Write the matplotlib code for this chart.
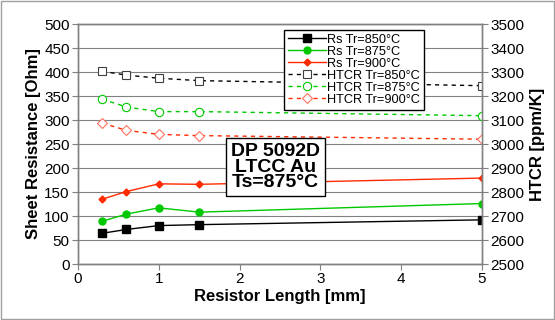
import matplotlib
matplotlib.use("Agg")
import matplotlib.pyplot as plt

plt.rcParams['font.family'] = ['Liberation Sans', 'DejaVu Sans']

length = [0.3, 0.6, 1.0, 1.5, 5.0]
rs_850 = [64, 72, 80, 82, 92]
rs_875 = [89, 104, 117, 108, 126]
rs_900 = [135, 151, 167, 166, 179]
htcr_850 = [3303, 3287, 3274, 3264, 3243]
htcr_875 = [3187, 3154, 3135, 3135, 3118]
htcr_900 = [3087, 3057, 3040, 3035, 3020]

black = '#000000'
green = '#00c800'
red = '#ff2a00'
grid = '#808080'

fig = plt.figure(figsize=(5.55, 3.2), dpi=100)
ax = fig.add_axes([78/555, 1-264/320, (482-78)/555, 240/320])
ax2 = ax.twinx()

l1, = ax.plot(length, rs_850, '-s', color=black, lw=1, ms=6, mfc=black, mec=black, label='Rs Tr=850°C')
l2, = ax.plot(length, rs_875, '-o', color=green, lw=1, ms=5, mfc=green, mec=green, label='Rs Tr=875°C')
l3, = ax.plot(length, rs_900, '-D', color=red, lw=1, ms=3.5, mfc=red, mec=red, label='Rs Tr=900°C')
l4, = ax2.plot(length, htcr_850, '--s', color=black, lw=1, ms=6, mfc='white', mec='#404040', mew=0.8, label='HTCR Tr=850°C', dashes=(3, 3))
l5, = ax2.plot(length, htcr_875, '--o', color=green, lw=1, ms=6, mfc='white', mec=green, mew=0.8, label='HTCR Tr=875°C', dashes=(3, 3))
l6, = ax2.plot(length, htcr_900, '--D', color=red, lw=1, ms=5, mfc='white', mec='#ff7060', mew=0.8, label='HTCR Tr=900°C', dashes=(3, 3))

ax.set_xlim(0, 5)
ax.set_ylim(0, 500)
ax2.set_ylim(2500, 3500)
ax.set_xticks([0, 1, 2, 3, 4, 5])
ax.set_yticks(range(0, 501, 50))
ax2.set_yticks(range(2500, 3501, 100))
ax.yaxis.grid(True, color=grid, lw=0.8)
ax.set_axisbelow(True)

for a in (ax, ax2):
    for s in a.spines.values():
        s.set_color(grid)
        s.set_linewidth(1)
    a.tick_params(colors='black', labelsize=11, length=4, width=0.8, color=grid, pad=2)

ax.set_xlabel('Resistor Length [mm]', fontsize=12, fontweight='bold', labelpad=2)
ax.set_ylabel('Sheet Resistance [Ohm]', fontsize=12, fontweight='bold', labelpad=2)
ax2.set_ylabel('HTCR [ppm/K]', fontsize=12, fontweight='bold', labelpad=4)

leg = ax2.legend(handles=[l1, l2, l3, l4, l5, l6], loc='upper left',
                 bbox_to_anchor=((284-78)/404, (264-30)/240), fontsize=9.2,
                 frameon=True, fancybox=False, edgecolor='black', framealpha=1,
                 handlelength=3.0, handletextpad=0.1, labelspacing=0.0,
                 borderpad=0.3, borderaxespad=0)
leg.get_frame().set_linewidth(1)

fig.text((218+333)/2/555, 1-167/320, 'DP 5092D\nLTCC Au\nTs=875°C', ha='center', va='center',
         fontsize=14, fontweight='bold', linespacing=0.88,
         bbox=dict(boxstyle='square,pad=0.25', fc='white', ec='black', lw=1))

fig.patches.append(plt.Rectangle((0.002, 0.003), 0.996, 0.994, transform=fig.transFigure,
                                 fill=False, ec='#a0a0a0', lw=1))

fig.savefig('out.png', dpi=100)
